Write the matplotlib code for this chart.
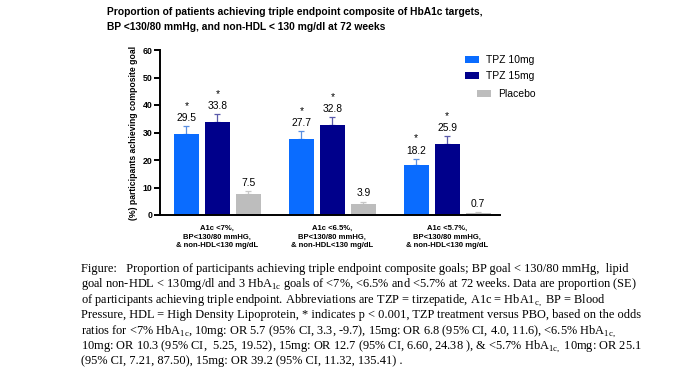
import matplotlib
matplotlib.use("Agg")
import matplotlib.pyplot as plt
import numpy as np

plt.rcParams['font.family'] = ['Liberation Sans', 'DejaVu Sans']
plt.rcParams['mathtext.fontset'] = 'custom'
plt.rcParams['mathtext.rm'] = 'Liberation Serif'

categories = ["A1c <7%,\nBP<130/80 mmHG,\n& non-HDL<130 mg/dL",
              "A1c <6.5%,\nBP<130/80 mmHG,\n& non-HDL<130 mg/dL",
              "A1c <5.7%,\nBP<130/80 mmHG,\n& non-HDL<130 mg/dL"]
tpz10 = [29.5, 27.7, 18.2]
tpz15 = [33.8, 32.8, 25.9]
placebo = [7.5, 3.9, 0.7]
se10 = [2.7, 2.7, 2.2]
se15 = [2.9, 2.8, 2.7]
se_pbo = [1.3, 1.0, 0.3]
series_names = ["TPZ 10mg", "TPZ 15mg", "Placebo"]
yticks = [0, 10, 20, 30, 40, 50, 60]

colors = ["#0A6CFF", "#00008B", "#BDBDBD"]
err_colors = ["#5A8FE0", "#5A5AAA", "#C8C8C8"]

fig = plt.figure(figsize=(6.75, 3.81), dpi=100)
ax = fig.add_axes([160/675, 1-215/381, 340/675, 165/381])

x = np.arange(len(categories))
width = 0.22
offsets = [-0.27, 0.0, 0.27]
series = [tpz10, tpz15, placebo]
errs = [se10, se15, se_pbo]
stars = [True, True, False]

handles = []
for vals, se, off, c, ec, name, star in zip(series, errs, offsets, colors,
                                             err_colors, series_names, stars):
    b = ax.bar(x + off, vals, width, color=c, label=name, zorder=2)
    handles.append(b)
    ax.errorbar(x + off, vals, yerr=[[0]*len(vals), se], fmt='none',
                ecolor=ec, elinewidth=0.9, capsize=2.5, capthick=0.9, zorder=1)
    for xi, v, s in zip(x + off, vals, se):
        top = v + s
        ax.text(xi, top + 1.2, f"{v}", ha='center', va='bottom', fontsize=7.4)
        if star:
            ax.text(xi, top + 5.6, "*", ha='center', va='bottom', fontsize=7.4)

ax.set_xlim(-0.5, 2.46)
ax.set_ylim(0, 60)
ax.set_yticks(yticks)
ax.set_yticklabels([str(t) for t in yticks], fontsize=6.3, fontweight='bold')
ax.set_xticks(x)
ax.set_xticklabels(categories, fontsize=5.5, fontweight='bold', linespacing=1.35)
ax.tick_params(axis='x', length=0, pad=7)
ax.tick_params(axis='y', length=4, width=1.4, pad=1.5)
for sp in ['top', 'right']:
    ax.spines[sp].set_visible(False)
for sp in ['left', 'bottom']:
    ax.spines[sp].set_linewidth(1.4)
ax.set_ylabel("(%) participants achieving composite goal", fontsize=6.2,
              fontweight='bold', labelpad=3)

leg_kw = dict(loc='upper left', frameon=False, fontsize=7.5, handlelength=1.3,
              handleheight=0.7, labelspacing=0.6, handletextpad=0.75,
              borderpad=0, borderaxespad=0)
fig.legend(handles=handles[:2], labels=series_names[:2],
           bbox_to_anchor=(465/675, 1-55/381), **leg_kw)
fig.legend(handles=handles[2:], labels=series_names[2:],
           bbox_to_anchor=(477/675, 1-89/381), **leg_kw)

fig.text(107/675, 1-7/381,
         "Proportion of patients achieving triple endpoint composite of HbA1c targets,\n"
         "BP <130/80 mmHg, and non-HDL < 130 mg/dl at 72 weeks",
         ha='left', va='top', fontsize=7.4, fontweight='bold', linespacing=1.6)

caption = [
    "Figure:   Proportion of participants achieving triple endpoint composite goals; BP goal < 130/80 mmHg,  lipid",
    r"goal non-HDL < 130mg/dl and 3 HbA$_{\mathrm{1c}}$ goals of <7%, <6.5% and <5.7% at 72 weeks. Data are proportion (SE)",
    r"of participants achieving triple endpoint. Abbreviations are TZP = tirzepatide, A1c = HbA1$_{\mathrm{c,}}$ BP = Blood",
    "Pressure, HDL = High Density Lipoprotein, * indicates p < 0.001, TZP treatment versus PBO, based on the odds",
    r"ratios for <7% HbA$_{\mathrm{1c}}$, 10mg: OR 5.7 (95% CI, 3.3, -9.7), 15mg: OR 6.8 (95% CI, 4.0, 11.6), <6.5% HbA$_{\mathrm{1c,}}$",
    r"10mg: OR 10.3 (95% CI,  5.25, 19.52), 15mg: OR 12.7 (95% CI, 6.60, 24.38 ), & <5.7% HbA$_{\mathrm{1c,}}$ 10mg: OR 25.1",
    "(95% CI, 7.21, 87.50), 15mg: OR 39.2 (95% CI, 11.32, 135.41) .",
]
for i, line in enumerate(caption):
    fig.text(81/675, 1-(272 + 15.4*i)/381, line, ha='left', va='baseline',
             fontsize=8.9, family='Liberation Serif')

fig.savefig("out.png", dpi=100)
